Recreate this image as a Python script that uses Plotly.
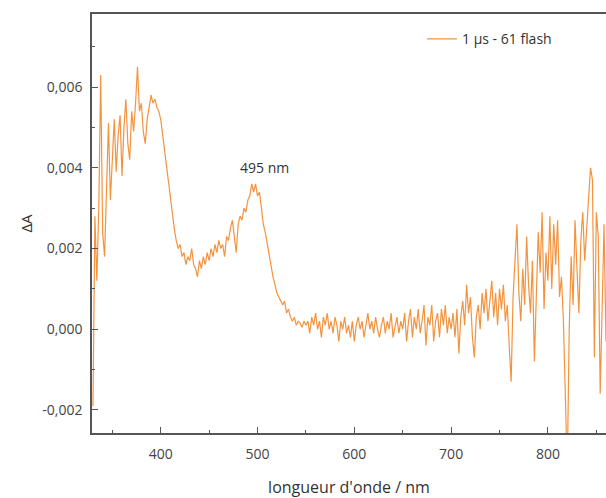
import numpy as np
import plotly.graph_objects as go

# wavelength grid (nm), 2 nm step
wavelength = list(range(330, 862, 2))

# ΔA values
delta_A = [
    # 330 - 420
    -0.0019, 0.0028, 0.0012, 0.0030, 0.0063, 0.0024, 0.0018, 0.0036, 0.0051, 0.0032,
    0.0044, 0.0052, 0.0039, 0.0048, 0.0053, 0.0038, 0.0050, 0.0057, 0.0046, 0.0042,
    0.0054, 0.0049, 0.0056, 0.0065, 0.0054, 0.0056, 0.0049, 0.0046, 0.0052, 0.0055,
    0.0058, 0.0056, 0.0057, 0.0055, 0.0054, 0.0052, 0.0048, 0.0044, 0.0040, 0.0036,
    0.0032, 0.0028, 0.0025, 0.0022, 0.0020, 0.0021,
    # 422 - 550
    0.0018, 0.0019, 0.0016, 0.0018, 0.0017, 0.0020, 0.0016, 0.0015, 0.0013, 0.0017,
    0.0015, 0.0018, 0.0016, 0.0019, 0.0017, 0.0020, 0.0018, 0.0021, 0.0019, 0.0022,
    0.0020, 0.0021, 0.0018, 0.0023, 0.0022, 0.0025, 0.0027, 0.0023, 0.0019, 0.0026,
    0.0028, 0.0027, 0.0030, 0.0029, 0.0032, 0.0033, 0.0036, 0.0034, 0.0036, 0.0033,
    0.0034, 0.0030, 0.0026, 0.0024, 0.0021, 0.0018, 0.0016, 0.0013, 0.0011, 0.0009,
    0.0008, 0.0007, 0.0006, 0.0007, 0.0004, 0.0005, 0.0003, 0.0002, 0.0003, 0.0001,
    0.0002, 0.00015, 0.00005, 0.0002, 0.0001,
    # 552 - 700
    0.0002, -0.0001, 0.0003, 0.0001, 0.0004, 0.0000, 0.0002, -0.0002, 0.0003, 0.0001,
    0.0004, 0.0000, 0.0002, -0.0001, 0.0003, 0.0001, -0.0003, 0.0002, 0.0000, 0.0003,
    -0.0001, 0.0001, -0.0002, 0.0002, -0.0003, 0.0001, 0.0003, 0.0000, 0.0002, -0.0002,
    0.0001, 0.0004, 0.0000, 0.0002, -0.0001, 0.0003, 0.0000, -0.0002, 0.0001, 0.0003,
    -0.0001, 0.0002, 0.0000, 0.0004, -0.0002, 0.0001, 0.0003, -0.0001, 0.0002, 0.0000,
    0.0004, -0.0003, 0.0002, 0.0005, -0.0002, 0.0003, 0.0000, 0.0005, -0.0001, 0.0002,
    0.0006, -0.0004, 0.0003, 0.0001, 0.0006, -0.0003, 0.0002, 0.0004, -0.0002, 0.0005,
    0.0001, 0.0006, -0.0001, 0.0003, 0.0000,
    # 702 - 860
    0.0004, -0.0002, 0.0005, -0.0006, 0.0003, 0.0007, 0.0001, 0.0011, 0.0004, 0.0008,
    -0.0002, -0.0007, 0.0003, 0.0006, 0.0000, 0.0009, 0.0004, 0.0010, 0.0002, 0.0007,
    0.0012, 0.0003, 0.0009, 0.0001, 0.0010, 0.0005, 0.0011, 0.0002, 0.0006, -0.0004,
    -0.0013, 0.0008, 0.0016, 0.0026, 0.0009, 0.0002, 0.0015, 0.0006, 0.0023, 0.0011,
    0.0004, 0.0017, -0.0008, 0.0010, 0.0024, 0.0014, 0.0029, 0.0005, 0.0019, 0.0012,
    0.0028, 0.0010, 0.0026, 0.0016, 0.0027, 0.0008, 0.0013, 0.0002, -0.0015, -0.0035,
    0.0000, 0.0018, 0.0006, 0.0027, 0.0015, 0.0004, 0.0022, 0.0029, 0.0017, 0.0025,
    0.0032, 0.0040, 0.0037, -0.0007, 0.0029, 0.0023, -0.0016, 0.0009, 0.0026, -0.0003,
]

y_tickvals = [-0.002, 0.0, 0.002, 0.004, 0.006]
y_ticktext = ["-0,002", "0,000", "0,002", "0,004", "0,006"]
x_tickvals = [400, 500, 600, 700, 800]
series_name = "1 µs - 61 flash"
peak_label = "495 nm"

fig = go.Figure()
fig.add_trace(go.Scatter(
    x=wavelength, y=delta_A, mode="lines", name=series_name,
    line=dict(color="rgba(242,128,28,0.85)", width=1.2),
    showlegend=True,
))

fig.add_annotation(x=507, y=0.0040, xref="x", yref="y", text=peak_label,
                   showarrow=False, font=dict(size=14, color="#333"))

axis_common = dict(
    showgrid=False, zeroline=False, showline=True, linecolor="#555", linewidth=1.5,
    ticks="inside", ticklen=6, tickcolor="#555", tickwidth=1.2,
    tickfont=dict(size=14, color="#444", family="Open Sans"),
)

fig.update_xaxes(
    range=[329, 860], tickvals=x_tickvals, mirror=True, ticklabelstandoff=7,
    title=dict(text="longueur d'onde / nm", font=dict(size=16, color="#333", family="Open Sans"), standoff=22),
    minor=dict(ticks="inside", ticklen=3, dtick=50, tick0=350, tickcolor="#555", showgrid=False),
    **axis_common,
)
fig.update_yaxes(
    range=[-0.00257, 0.00781], tickvals=y_tickvals, ticktext=y_ticktext, ticklabelstandoff=5,
    title=dict(text="ΔA", font=dict(size=15, color="#333", family="Open Sans"), standoff=6),
    minor=dict(ticks="inside", ticklen=3, dtick=0.001, tick0=0.001, tickcolor="#555", showgrid=False),
    **axis_common,
)

fig.update_layout(
    width=606, height=498,
    margin=dict(l=92, r=0, t=14, b=65),
    plot_bgcolor="white", paper_bgcolor="white",
    font=dict(family="Open Sans", color="#333"),
    legend=dict(x=0.642, y=0.978, xanchor="left", yanchor="top",
                bgcolor="rgba(0,0,0,0)", font=dict(size=14, color="#333")),
)

# remove the default page margin so the figure fills the 606x498 window exactly
fig.write_html(
    "out.html",
    config={"displayModeBar": False},
    post_script="document.body.style.margin='0';document.body.style.overflow='hidden';",
)
